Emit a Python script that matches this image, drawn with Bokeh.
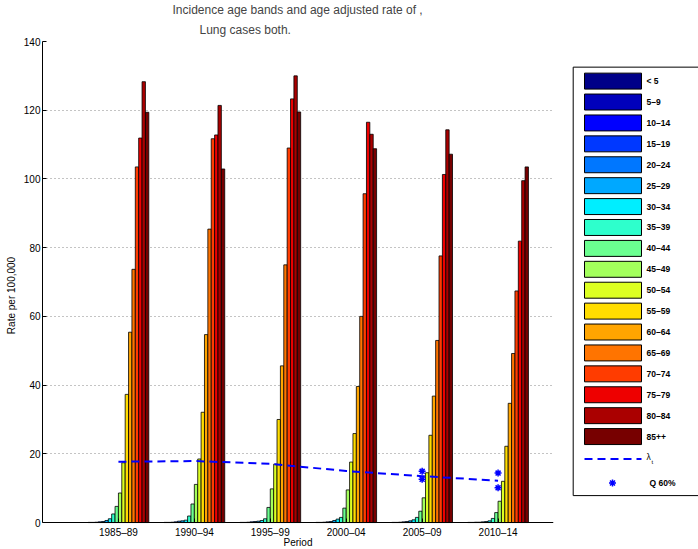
import numpy as np
from bokeh.plotting import figure
from bokeh.models import Range1d, FixedTicker, Title
from bokeh.layouts import row
from bokeh.embed import file_html
from bokeh.resources import INLINE
from bokeh.core.properties import value

# ---------------- data ----------------
periods = ["1985–89", "1990–94", "1995–99", "2000–04", "2005–09", "2010–14"]
age_bands = ["< 5", "5–9", "10–14", "15–19", "20–24", "25–29", "30–34", "35–39",
             "40–44", "45–49", "50–54", "55–59", "60–64", "65–69", "70–74",
             "75–79", "80–84", "85++"]
band_colors = ["#000088", "#0000BB", "#0000FF", "#0038FF", "#0077FF", "#00A8FF",
               "#00EEFF", "#2EFFCC", "#6BFF90", "#A3FF5C", "#DDFF22", "#FFDD00",
               "#FFA500", "#FF7400", "#FF3C00", "#EE0000", "#AA0000", "#770000"]

rate_1985_89 = [0.05, 0.05, 0.1, 0.2, 0.3, 0.6, 1.1, 2.5, 4.7, 8.6, 17.4, 37.3,
                55.4, 73.7, 103.5, 111.9, 128.3, 119.4]
rate_1990_94 = [0.05, 0.05, 0.1, 0.2, 0.4, 0.5, 0.7, 1.9, 5.4, 11.1, 18.5, 32.1,
                54.7, 85.4, 111.7, 112.8, 121.4, 102.9]
rate_1995_99 = [0.05, 0.05, 0.1, 0.2, 0.3, 0.4, 0.6, 1.1, 4.4, 9.8, 17.0, 30.0,
                45.6, 75.0, 109.0, 123.3, 130.0, 119.5]
rate_2000_04 = [0.05, 0.05, 0.1, 0.2, 0.3, 0.6, 1.0, 1.5, 4.2, 9.5, 17.6, 25.9,
                39.6, 60.0, 95.7, 116.5, 113.0, 108.8]
rate_2005_09 = [0.05, 0.05, 0.1, 0.2, 0.3, 0.5, 0.8, 1.5, 3.3, 7.2, 14.5, 25.4,
                36.8, 53.0, 77.6, 101.3, 114.3, 107.2]
rate_2010_14 = [0.05, 0.05, 0.1, 0.1, 0.2, 0.3, 0.5, 1.2, 2.9, 6.2, 12.0, 22.2,
                34.7, 49.2, 67.4, 81.9, 99.5, 103.5]
rates = [rate_1985_89, rate_1990_94, rate_1995_99, rate_2000_04, rate_2005_09, rate_2010_14]

lambda_t = [17.7, 17.9, 17.1, 15.0, 13.5, 12.2]
q60_index = [5, 6]
q60_upper = [14.9, 14.4]
q60_lower = [12.6, 10.1]

y_ticks = [0, 20, 40, 60, 80, 100, 120, 140]
Y_MAX = 140

FONT = "Liberation Sans"
H = 549
FRAME_TOP = 40          # page row of the 140 gridline
AXIS_ROW = 522          # page row of the 0 baseline
X_MAX = 6.73
# the frame runs to the bottom of the canvas; the x axis sits at y = 0 inside it
y_low = -(H - AXIS_ROW) * Y_MAX / (AXIS_ROW - FRAME_TOP)

# ---------------- main plot ----------------
p = figure(width=560, height=H, x_range=Range1d(0, X_MAX), y_range=Range1d(y_low, Y_MAX),
           output_backend="svg", toolbar_location=None,
           min_border_left=42, min_border_right=7, min_border_top=FRAME_TOP,
           min_border_bottom=0)
p.outline_line_color = None
p.background_fill_color = "white"

ngroup = len(age_bands)
group_w = 0.8
bw = group_w / ngroup
for j, band in enumerate(age_bands):
    xs = [i + 1 - group_w / 2 + (j + 0.5) * bw for i in range(len(periods))]
    ys = [rates[i][j] for i in range(len(periods))]
    p.vbar(x=xs, top=ys, bottom=0, width=bw, fill_color=band_colors[j],
           line_color="black", line_width=0.8)

xs_groups = list(range(1, len(periods) + 1))
p.line(xs_groups, lambda_t, line_color="#0000FF", line_width=2, line_dash="8 5")
p.scatter(q60_index, q60_upper, marker="asterisk", size=7, line_color="#0000FF", line_width=1.5)
p.scatter(q60_index, q60_lower, marker="asterisk", size=7, line_color="#0000FF", line_width=1.5)

# axes
p.yaxis.ticker = FixedTicker(ticks=y_ticks)
p.yaxis.bounds = (0, Y_MAX)
p.xaxis.ticker = FixedTicker(ticks=xs_groups)
p.xaxis.fixed_location = 0
p.xaxis.major_label_overrides = {i + 1: periods[i] for i in range(len(periods))}
for ax in (p.xaxis[0], p.yaxis[0]):
    ax.major_tick_in = 4
    ax.major_tick_out = 0
    ax.minor_tick_line_color = None
    ax.axis_line_color = "black"
    ax.major_tick_line_color = "black"
    ax.major_label_text_font = FONT
    ax.major_label_text_font_size = "10px"
    ax.major_label_text_color = "black"
    ax.axis_label_text_font = FONT
    ax.axis_label_text_font_size = "10px"
    ax.axis_label_text_font_style = "normal"
    ax.axis_label_text_color = "black"
p.yaxis.major_label_standoff = 2
p.yaxis.axis_label_standoff = 4
p.xaxis.major_label_standoff = 4
p.xaxis.axis_label_standoff = -4
p.yaxis.axis_label = "Rate per 100,000"
p.xaxis.axis_label = "Period"

p.xgrid.visible = False
p.ygrid.grid_line_color = "#888888"
p.ygrid.grid_line_dash = "1 3"
p.ygrid.grid_line_width = 1

# titles (p.title sits on top, the added one sits next to the plot)
p.title.text = "Incidence age bands and age adjusted rate of ,"
p.title.align = "left"
p.title.offset = 130
p.title.text_font = FONT
p.title.text_font_size = "12px"
p.title.text_font_style = "normal"
p.title.standoff = 0
p.add_layout(Title(text="Lung cases both.", align="left",
                   offset=157, text_font=FONT, text_font_size="12px",
                   text_font_style="normal", standoff=9), "above")

# ---------------- legend panel (frame aligned with the plot frame) ----------------
lf = figure(width=138, height=H, x_range=Range1d(560, 698),
            y_range=Range1d(H, FRAME_TOP),
            output_backend="svg", toolbar_location=None, min_border=0,
            x_axis_type=None, y_axis_type=None)
lf.outline_line_color = None
lf.xgrid.visible = False
lf.ygrid.visible = False

lf.quad(left=572.7, right=712, top=65.7, bottom=495, fill_color="white",
        line_color="black", line_width=1)
leg_y = [79.7 + k * 20.95 for k in range(ngroup)]
lf.rect(x=[612.5] * ngroup, y=leg_y, width=57, height=16, fill_color=band_colors,
        line_color="black", line_width=1)
lf.text(x=[646] * ngroup, y=leg_y, text=age_bands, text_font=value(FONT),
        text_font_size="8.5px", text_font_style="bold", text_baseline="middle",
        text_color="black")
lf.line([584, 641], [458.3, 458.3], line_color="#0000FF", line_width=2, line_dash="8 5")
lf.text(x=[646], y=[456], text=["λ"], text_font=value(FONT), text_font_size="8.5px",
        text_baseline="middle", text_color="black")
lf.text(x=[651], y=[461], text=["t"], text_font=value(FONT), text_font_size="6px",
        text_baseline="middle", text_color="black")
lf.scatter([612], [482.3], marker="asterisk", size=7, line_color="#0000FF", line_width=1.5)
lf.text(x=[649], y=[482.3], text=["Q 60%"], text_font=value(FONT), text_font_size="8.5px",
        text_font_style="bold", text_baseline="middle", text_color="black")

layout = row(p, lf)
html = file_html(layout, INLINE,
                 template="{% block preamble %}<style>html, body { margin: 0; padding: 0; overflow: hidden; }</style>{% endblock %}")
open("out.html", "w").write(html)
